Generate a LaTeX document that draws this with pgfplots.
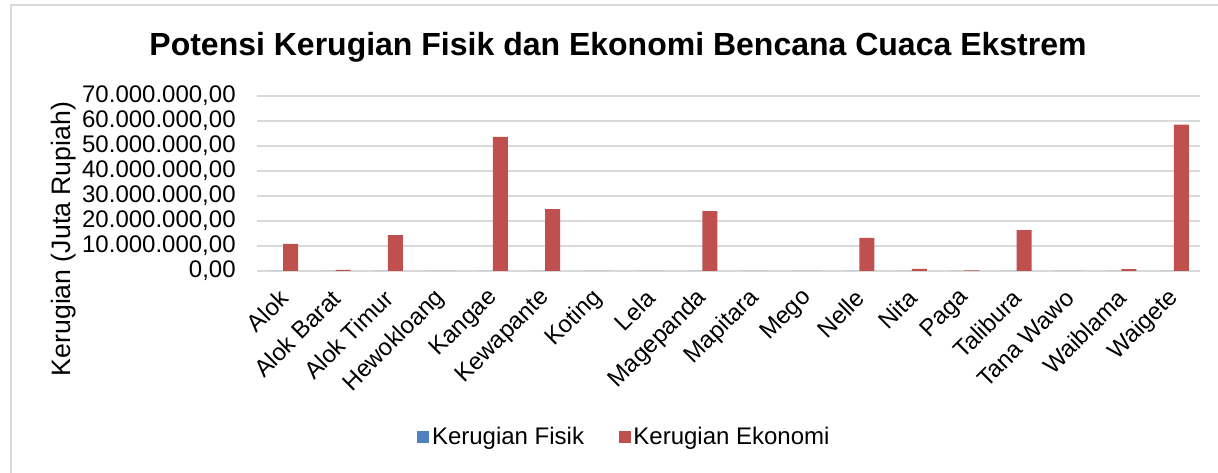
\documentclass[border=0pt]{standalone}
\usepackage{pgfplots}
\pgfplotsset{compat=1.18}
\usepackage{fontspec}
\setmainfont{Liberation Sans}
\definecolor{cfisik}{HTML}{4F81BD}
\definecolor{cekon}{HTML}{C0504D}
\definecolor{gridg}{HTML}{D9D9D9}
\begin{document}
\begin{tikzpicture}
\useasboundingbox (0pt,0pt) rectangle (913.5pt,354.75pt);
\fill[white] (0pt,0pt) rectangle (913.5pt,354.75pt);
\draw[gridg,line width=1.2pt] (8.25pt,0pt) -- (8.25pt,351pt) -- (913.5pt,351pt);
\node[font=\fontsize{24}{28}\selectfont\bfseries] at (463.5pt,319.5pt) {Potensi Kerugian Fisik dan Ekonomi Bencana Cuaca Ekstrem};
\node[font=\fontsize{20}{24}\selectfont, rotate=90] at (48pt,175.5pt) {Kerugian (Juta Rupiah)};
\begin{axis}[
  at={(192.75pt,151.5pt)}, anchor=south west,
  scale only axis, width=707.25pt, height=131.5pt,
  ybar=0pt, bar width=11.25pt,
  xmin=-0.5, xmax=17.5, ymin=0, ymax=70000000,
  ytick={0,10000000,20000000,30000000,40000000,50000000,60000000,70000000},
  scaled y ticks=false,
  xtick={0,...,17},
  xticklabels={Alok,Alok Barat,Alok Timur,Hewokloang,Kangae,Kewapante,Koting,Lela,Magepanda,Mapitara,Mego,Nelle,Nita,Paga,Talibura,Tana Wawo,Waiblama,Waigete},
  xticklabel style={yshift=-15pt, xshift=3pt, rotate=45, anchor=east, font=\fontsize{18}{21}\selectfont},
  yticklabel style={xshift=-12.5pt, font=\fontsize{18}{21}\selectfont},
  /pgf/number format/assume math mode=true,
  yticklabel={\pgfmathprintnumber[fixed,fixed zerofill,precision=2,use comma]{\tick}},
  major tick length=0pt,
  ymajorgrids, grid style={gridg, line width=1.3pt},
  axis line style={draw=none},
  legend style={at={(0.39,-0.947)}, anchor=center, draw=none, legend columns=2,
    font=\fontsize{18}{21}\selectfont, /tikz/every even column/.append style={column sep=24pt}},
  legend image code/.code={\fill[#1] (0pt,-4.5pt) rectangle (9pt,4.5pt);},
]
\addplot[fill=cfisik, draw=none] coordinates {(0,0) (1,0) (2,0) (3,0) (4,0) (5,0) (6,0) (7,0) (8,0) (9,0) (10,0) (11,0) (12,0) (13,0) (14,0) (15,0) (16,0) (17,0)};
\addlegendentry{Kerugian Fisik}
\addplot[fill=cekon, draw=none] coordinates {(0,10800000) (1,400000) (2,14300000) (3,0) (4,53500000) (5,24700000) (6,0) (7,0) (8,23900000) (9,0) (10,0) (11,13200000) (12,800000) (13,250000) (14,16300000) (15,0) (16,700000) (17,58400000)};
\addlegendentry{Kerugian Ekonomi}
\end{axis}
\end{tikzpicture}
\end{document}
